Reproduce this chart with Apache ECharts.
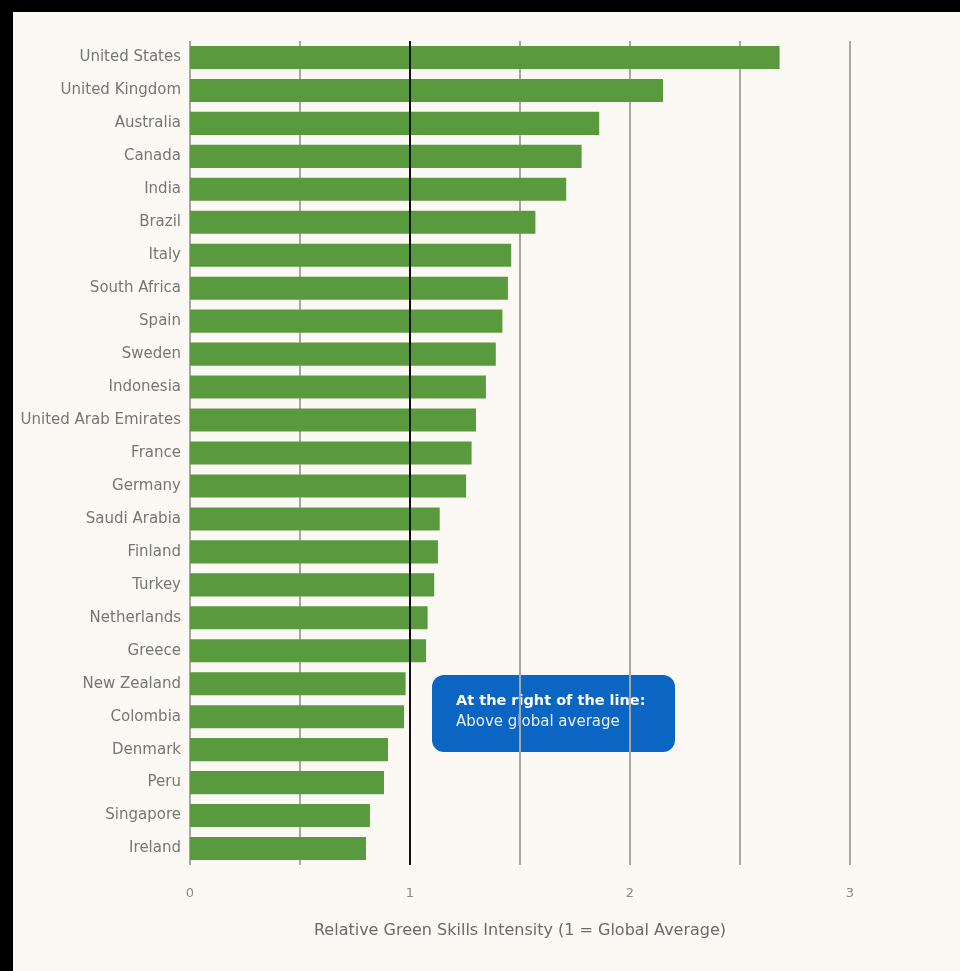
<!DOCTYPE html>
<html>
<head>
<meta charset="utf-8">
<script src="https://cdn.jsdelivr.net/npm/echarts@6/dist/echarts.min.js"></script>
<style>
  html, body { margin: 0; padding: 0; background: #fcf9f4; }
  #chart { width: 960px; height: 971px; }
</style>
</head>
<body>
<div id="chart"></div>
<script>
// countries, top to bottom
const countries = [
  "United States", "United Kingdom", "Australia", "Canada", "India", "Brazil",
  "Italy", "South Africa", "Spain", "Sweden", "Indonesia", "United Arab Emirates",
  "France", "Germany", "Saudi Arabia", "Finland", "Turkey", "Netherlands",
  "Greece", "New Zealand", "Colombia", "Denmark", "Peru", "Singapore", "Ireland"
];
// relative green skills intensity (1 = global average)
const intensity = [
  2.68, 2.15, 1.86, 1.78, 1.71, 1.57,
  1.46, 1.445, 1.42, 1.39, 1.345, 1.30,
  1.28, 1.255, 1.135, 1.127, 1.11, 1.08,
  1.073, 0.98, 0.973, 0.90, 0.882, 0.818, 0.80
];
const xTicks = [0, 1, 2, 3];
const globalAverage = 1;

const chart = echarts.init(document.getElementById("chart"));
const font = "'DejaVu Sans', 'Noto Sans', sans-serif";

chart.setOption({
  backgroundColor: "#fcf9f4",
  animation: false,
  grid: { left: 190, right: 110, top: 41, bottom: 106 },
  xAxis: {
    type: "value",
    min: 0,
    max: 3,
    interval: 0.5,
    axisLine: { show: false },
    axisTick: { show: false },
    splitLine: { show: true, lineStyle: { color: "#aaa7a3", width: 2 } },
    axisLabel: {
      color: "#8a8a8a",
      fontSize: 13,
      fontFamily: font,
      margin: 22,
      formatter: v => (xTicks.indexOf(v) >= 0 ? String(v) : "")
    },
    name: "Relative Green Skills Intensity (1 = Global Average)",
    nameLocation: "middle",
    nameGap: 58,
    nameTextStyle: { color: "#6a6a6a", fontSize: 16, fontFamily: font }
  },
  yAxis: {
    type: "category",
    data: countries,
    inverse: true,
    axisLine: { show: false },
    axisTick: { show: false },
    axisLabel: { color: "#767676", fontSize: 15, fontFamily: font, margin: 9 }
  },
  series: [
    {
      type: "bar",
      data: intensity,
      barCategoryGap: "30%",
      itemStyle: { color: "#5a9a3e" },
      markLine: {
        silent: true,
        symbol: "none",
        label: { show: false },
        lineStyle: { color: "#111", width: 2, type: "solid" },
        data: [{ xAxis: globalAverage }]
      }
    }
  ],
  graphic: [
    { type: "rect", shape: { x: 0, y: 0, width: 960, height: 12 }, style: { fill: "#000" } },
    { type: "rect", shape: { x: 0, y: 0, width: 13, height: 971 }, style: { fill: "#000" } },
    {
      type: "group",
      left: 432,
      top: 675,
      children: [
        {
          type: "rect",
          shape: { x: 0, y: 0, width: 243, height: 77, r: 12 },
          style: { fill: "#0a66c2" }
        },
        {
          type: "text",
          x: 24, y: 19,
          style: { text: "At the right of the line:", fill: "#fff", fontSize: 14.5, fontWeight: "bold", fontFamily: font }
        },
        {
          type: "text",
          x: 24, y: 40,
          style: { text: "Above global average", fill: "#e6eef8", fontSize: 15, fontFamily: font }
        }
      ]
    }
  ]
});
</script>
</body>
</html>
